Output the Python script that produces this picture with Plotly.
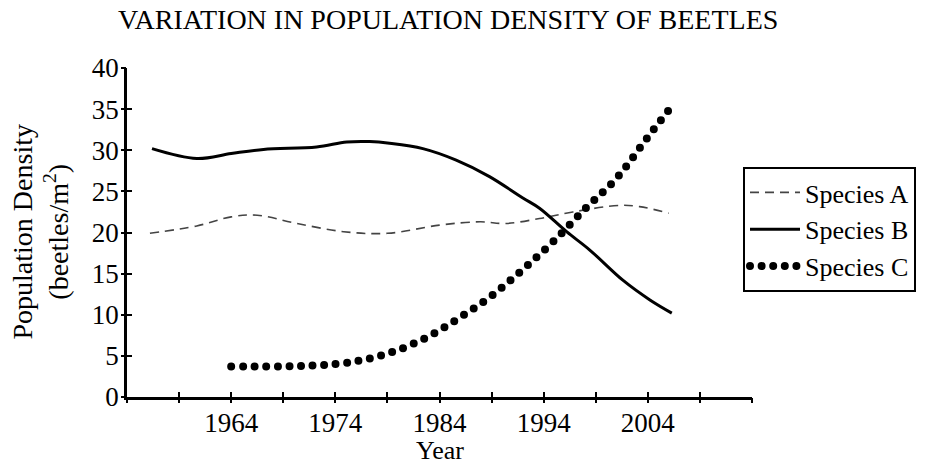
import plotly.graph_objects as go

title_text = "VARIATION IN POPULATION DENSITY OF BEETLES"
x_title = "Year"
y_title = "Population Density<br>(beetles/m<sup>2</sup>)"

label_years = [1964, 1974, 1984, 1994, 2004]
minor_years = [1954, 1959, 1969, 1979, 1989, 1999, 2009, 2014]
all_years = [1954, 1959, 1964, 1969, 1974, 1979, 1984, 1989, 1994, 1999, 2004, 2009, 2014]
y_ticks = [0, 5, 10, 15, 20, 25, 30, 35, 40]

years_a = [1956.2, 1960.7, 1964, 1966.5, 1970.3, 1974.8, 1979, 1984, 1987.9, 1990.4, 1993.6, 1996.8, 2001.3, 2003.2, 2006]
species_a = [19.9, 20.8, 21.9, 22.1, 21.1, 20.1, 19.9, 20.9, 21.3, 21.1, 21.7, 22.5, 23.3, 23.15, 22.35]

years_b = [1956.4, 1960.7, 1964, 1967.1, 1972.2, 1975.1, 1977.3, 1979.2, 1982.4, 1985.6, 1988.8, 1992, 1993.6, 1996.2, 1998.4, 2001.6, 2004.2, 2006.3]
species_b = [30.2, 29.0, 29.6, 30.1, 30.4, 31.0, 31.05, 30.85, 30.2, 28.8, 26.8, 24.2, 22.95, 20.1, 17.9, 14.2, 11.8, 10.2]

years_c = [1964, 1970, 1974, 1977, 1980, 1983, 1986, 1989, 1992, 1995, 1998, 2001, 2004, 2006.4]
species_c = [3.7, 3.75, 4.0, 4.6, 5.7, 7.4, 9.7, 12.3, 15.5, 19.0, 22.9, 26.6, 31.6, 35.5]

FONT = "Liberation Serif, Times New Roman, serif"

fig = go.Figure()
fig.add_trace(go.Scatter(x=years_a, y=species_a, mode="lines", name="Species A",
                         line=dict(color="#444444", width=1.6, dash="9px,6px", shape="spline")))
fig.add_trace(go.Scatter(x=years_b, y=species_b, mode="lines", name="Species B",
                         line=dict(color="black", width=3, shape="spline")))
fig.add_trace(go.Scatter(x=years_c, y=species_c, mode="lines", name="Species C",
                         line=dict(color="black", width=8, dash="0px,11.6px", shape="spline")))
# helper traces so the overlay axes (outer half of crossing tick marks) are drawn
fig.add_trace(go.Scatter(x=[None], y=[None], xaxis="x2", yaxis="y", showlegend=False, hoverinfo="skip"))
fig.add_trace(go.Scatter(x=[None], y=[None], xaxis="x", yaxis="y2", showlegend=False, hoverinfo="skip"))

tick_style = dict(ticklen=5, tickwidth=1.5, tickcolor="black")
PLOT_L, PLOT_R, PLOT_T, PLOT_B = 127, 752, 68, 397
PW, PH = PLOT_R - PLOT_L, PLOT_B - PLOT_T

fig.update_layout(
    template="none",
    width=945, height=466,
    margin=dict(l=PLOT_L, r=945 - PLOT_R, t=PLOT_T, b=466 - PLOT_B, autoexpand=False),
    paper_bgcolor="white", plot_bgcolor="white",
    font=dict(family=FONT, color="black", size=27),
    title=dict(text=title_text, font=dict(family=FONT, size=28, color="black"),
               x=118 / 945, xanchor="left", xref="container",
               y=1 - 19 / 466, yanchor="middle", yref="container"),
    showlegend=True,
    legend=dict(x=(743 - PLOT_L) / PW, xanchor="left", y=(PLOT_B - 167) / PH, yanchor="top",
                bordercolor="black", borderwidth=2, bgcolor="white", itemwidth=50,
                entrywidth=130, entrywidthmode="pixels",
                font=dict(family=FONT, size=26, color="black"), tracegroupgap=0),
    # main axes: labels + inner half of the ticks
    xaxis=dict(range=[1954, 2014], tickmode="array", tickvals=label_years,
               ticktext=[str(v) for v in label_years], automargin=False,
               ticks="inside", **tick_style,
               minor=dict(tickmode="array", tickvals=minor_years, ticks="inside", **tick_style),
               showline=True, linecolor="black", linewidth=2.5, showgrid=False, zeroline=False,
               tickfont=dict(family=FONT, size=27, color="black")),
    yaxis=dict(range=[0, 40], tickmode="array", tickvals=y_ticks, automargin=False,
               ticks="inside", **tick_style,
               showline=True, linecolor="black", linewidth=2.5, showgrid=False, zeroline=False,
               tickfont=dict(family=FONT, size=27, color="black")),
    # overlay axes: outer half of the ticks
    xaxis2=dict(overlaying="x", anchor="y", side="bottom", range=[1954, 2014], tickmode="array",
                tickvals=all_years, ticks="outside", **tick_style, automargin=False,
                showticklabels=False, showline=False, showgrid=False, zeroline=False),
    yaxis2=dict(overlaying="y", anchor="x", side="left", range=[0, 40], tickmode="array",
                tickvals=y_ticks, ticks="outside", **tick_style, automargin=False,
                showticklabels=False, showline=False, showgrid=False, zeroline=False),
    annotations=[
        dict(text=x_title, xref="paper", yref="paper", x=0.5, y=(PLOT_B - 466) / PH,
             xanchor="center", yanchor="bottom", showarrow=False, borderpad=0,
             font=dict(family=FONT, size=26, color="black")),
        dict(text=y_title, xref="paper", yref="paper", x=(40 - PLOT_L) / PW, y=0.5,
             xanchor="center", yanchor="middle", textangle=-90, showarrow=False, borderpad=0,
             font=dict(family=FONT, size=28, color="black")),
    ],
)

post = """
document.documentElement.style.margin = '0';
document.body.style.margin = '0';
document.body.style.padding = '0';
document.body.style.overflow = 'hidden';
var gd = document.getElementById('{plot_id}');
function fixCaps(){
  gd.querySelectorAll('path').forEach(function(p){
    var d = p.style.strokeDasharray;
    if (d && d.trim().indexOf('0px') === 0) { p.style.strokeLinecap = 'round'; }
  });
}
fixCaps();
gd.on('plotly_afterplot', fixCaps);
"""

fig.write_html("out.html", post_script=post, config={"displayModeBar": False})
